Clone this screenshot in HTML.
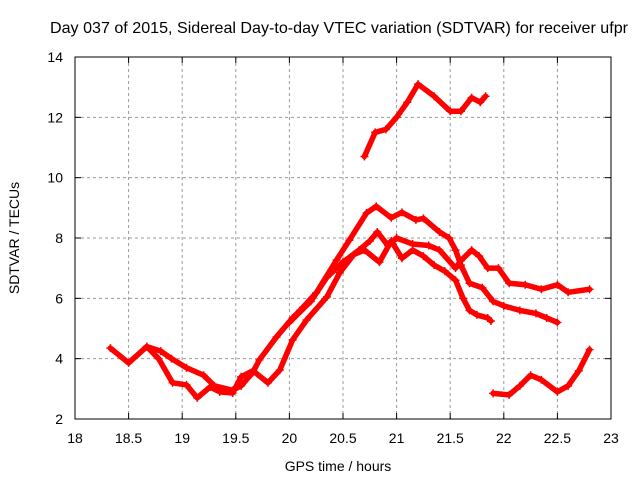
<!DOCTYPE html>
<html><head><meta charset="utf-8"><style>
body{margin:0;background:#fff;}
svg{display:block;font-family:"Liberation Sans",sans-serif;}
</style></head><body>
<svg id="chart" width="640" height="480" xmlns="http://www.w3.org/2000/svg">
<text x="339" y="33" font-size="16" text-anchor="middle" textLength="578" lengthAdjust="spacingAndGlyphs" fill="#000">Day 037 of 2015, Sidereal Day-to-day VTEC variation (SDTVAR) for receiver ufpr</text>
<g id="grid"></g>
<g id="ticks"></g>
<g id="series"></g>
<rect x="75" y="57" width="536" height="362" fill="none" stroke="#000" stroke-width="1"/>
<text x="338" y="471" font-size="14" text-anchor="middle">GPS time / hours</text>
<text x="0" y="0" font-size="14" text-anchor="middle" transform="translate(19,238) rotate(-90)">SDTVAR / TECUs</text>
</svg>
<script>
const xTicks=[18,18.5,19,19.5,20,20.5,21,21.5,22,22.5,23];
const xTickLabels=["18","18.5","19","19.5","20","20.5","21","21.5","22","22.5","23"];
const yTicks=[2,4,6,8,10,12,14];
const yTickLabels=["2","4","6","8","10","12","14"];
const s1x=[18.33,18.5,18.67,18.8,18.9,19.04,19.2,19.3,19.47,19.55,19.66,19.72,19.88,20.03,20.1,20.25,20.44,20.56,20.72,20.81,20.95,21.05,21.18,21.25,21.4,21.49,21.55,21.6,21.68,21.8,21.9,22.0,22.15,22.3,22.4,22.5];
const s1y=[4.35,3.86,4.4,4.25,4.0,3.7,3.45,3.1,2.95,3.1,3.55,3.96,4.72,5.35,5.6,6.18,7.27,7.93,8.83,9.05,8.67,8.85,8.6,8.65,8.2,8.0,7.6,7.1,6.5,6.35,5.9,5.75,5.6,5.5,5.35,5.2];
const s2x=[18.67,18.78,18.91,19.04,19.14,19.26,19.35,19.47,19.55,19.66,19.8,19.91,20.03,20.16,20.35,20.47,20.6,20.7,20.84,20.95,21.05,21.15,21.25,21.35,21.45,21.55,21.62,21.68,21.75,21.85,21.88];
const s2y=[4.4,4.0,3.2,3.13,2.7,3.06,2.9,2.86,3.4,3.6,3.2,3.62,4.62,5.28,6.05,6.85,7.45,7.6,7.2,7.9,7.33,7.6,7.4,7.1,6.9,6.6,6.0,5.6,5.45,5.35,5.25];
const s3x=[20.0,20.2,20.35,20.5,20.65,20.75,20.82,20.92,21.0,21.15,21.3,21.4,21.55,21.6,21.7,21.77,21.85,21.95,22.05,22.2,22.35,22.5,22.6,22.8];
const s3y=[5.2,5.9,6.7,7.2,7.6,7.9,8.2,7.75,8.0,7.8,7.75,7.6,7.0,7.25,7.6,7.4,7.0,7.0,6.5,6.45,6.3,6.45,6.2,6.3];
const s4x=[20.7,20.8,20.9,21.0,21.1,21.2,21.35,21.5,21.6,21.7,21.78,21.83];
const s4y=[10.7,11.5,11.6,12.0,12.5,13.1,12.7,12.2,12.2,12.65,12.5,12.7];
const s5x=[21.9,22.05,22.15,22.25,22.35,22.5,22.6,22.7,22.8];
const s5y=[2.85,2.8,3.1,3.45,3.3,2.9,3.1,3.6,4.3];
const X0=75,X1=611,Y0=419,Y1=57;
function xs(v){return X0+(v-18)/(23-18)*(X1-X0);}
function ys(v){return Y0-(v-2)/(14-2)*(Y0-Y1);}
const NS="http://www.w3.org/2000/svg";
function mk(t,a,p){const e=document.createElementNS(NS,t);for(const k in a)e.setAttribute(k,a[k]);p.appendChild(e);return e;}
const grid=document.getElementById('grid'),ticks=document.getElementById('ticks'),ser=document.getElementById('series');
xTicks.forEach((v,i)=>{const x=xs(v);
 if(i>0&&i<xTicks.length-1){const g=mk('line',{x1:x,x2:x,y1:Y1,y2:Y0,stroke:'#999','stroke-dasharray':'3,3'},grid);
 
 }
 const t=mk('text',{x:x,y:Y0+24,'font-size':14,'text-anchor':'middle'},ticks);t.textContent=xTickLabels[i];
 
 
 mk('line',{x1:x,x2:x,y1:Y0,y2:Y0-6,stroke:'#000'},ticks);mk('line',{x1:x,x2:x,y1:Y1,y2:Y1+6,stroke:'#000'},ticks);});
yTicks.forEach((v,i)=>{const y=ys(v);
 if(i>0&&i<yTicks.length-1){const g=mk('line',{x1:X0,x2:X1,y1:y,y2:y,stroke:'#999','stroke-dasharray':'3,3'},grid);
 
 }
 const t=mk('text',{x:X0-12,y:y+5,'font-size':14,'text-anchor':'end'},ticks);t.textContent=yTickLabels[i];
 
 
 mk('line',{x1:X0,x2:X0+6,y1:y,y2:y,stroke:'#000'},ticks);mk('line',{x1:X1,x2:X1-6,y1:y,y2:y,stroke:'#000'},ticks);});
[[s1x,s1y],[s2x,s2y],[s3x,s3y],[s4x,s4y],[s5x,s5y]].forEach((s,k)=>{
 const pts=s[0].map((v,i)=>xs(v)+','+ys(s[1][i])).join(' ');
 const p=mk('polyline',{points:pts,fill:'none',stroke:'#ff0000','stroke-width':5.5,'stroke-linejoin':'round','stroke-linecap':'round'},ser);
 
 
 s[0].forEach((v,i)=>{const x=xs(v),y=ys(s[1][i]);
  const m=mk('path',{d:`M${x-4},${y}H${x+4}M${x},${y-4}V${y+4}`,stroke:'#ff0000','stroke-width':1.5},ser);
  
  });
});
</script>
</body></html>
